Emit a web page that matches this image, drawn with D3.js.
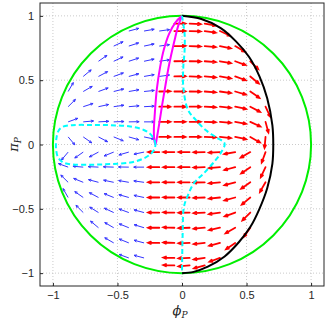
<!DOCTYPE html>
<html>
<head>
<meta charset="utf-8">
<script src="https://cdn.jsdelivr.net/npm/d3@7"></script>
<style>
  body { margin: 0; background: #fff; }
  svg text { font-family: "Liberation Sans", Arial, sans-serif; }
</style>
</head>
<body>
<div id="chart"></div>
<script>
// grid used by the quiver (phi and pi both)
const grid = [-1, -0.882, -0.765, -0.647, -0.529, -0.412, -0.294, -0.176, -0.059,
  0.059, 0.176, 0.294, 0.412, 0.529, 0.647, 0.765, 0.882, 1];

// quiver rows: [pi, index of first phi column, arrow angles in degrees]
const blueRows = [
  [0.882, 5, [15, 10, 8]],
  [0.765, 4, [25, 18, 12, 8]],
  [0.647, 3, [35, 25, 18, 12, 8]],
  [0.529, 2, [40, 28, 20, 15, 10, 8]],
  [0.412, 1, [60, 30, 20, 14, 10, 6]],
  [0.294, 1, [45, 18, 12, 8, 5, 3]],
  [0.176, 1, [20, 5, 3, 2, 1, 0]],
  [0.059, 1, [-50, -35, -28, -22, -16, -12]],
  [-0.059, 1, [230, 215, 208, 202, 196, 192]],
  [-0.176, 1, [160, 175, 177, 178, 179, 180]],
  [-0.294, 1, [135, 158, 165, 168, 170, 172]],
  [-0.412, 1, [120, 145, 152, 158, 164, 168]],
  [-0.529, 2, [135, 148, 155, 160, 165]],
  [-0.647, 3, [140, 150, 158, 163]],
  [-0.765, 4, [150, 158, 165]],
  [-0.882, 5, [160, 165]]
];

const redRows = [
  [0.94, 8, [0, -3, -10]],
  [0.882, 8, [0, -2, -8, -25]],
  [0.765, 8, [1, -2, -5, -12, -30]],
  [0.647, 8, [1, -1, -4, -10, -20, -45]],
  [0.529, 8, [1, -2, -5, -10, -20, -40]],
  [0.412, 7, [1, 0, -1, -4, -8, -16, -35]],
  [0.294, 7, [0, 0, 0, -3, -6, -12, -28, -65]],
  [0.176, 7, [0, 0, 0, -2, -5, -10, -25, -75]],
  [0.059, 7, [0, 0, 0, -2, -6, -12, -30, -95]],
  [-0.059, 7, [180, 180, 180, 181, 183, 190, 210, 250]],
  [-0.176, 7, [180, 180, 180, 182, 185, 195, 215, 245]],
  [-0.294, 7, [180, 180, 180, 181, 185, 195, 215, 240]],
  [-0.412, 7, [180, 179, 180, 182, 186, 195, 220]],
  [-0.529, 7, [180, 179, 181, 183, 188, 200, 225]],
  [-0.647, 7, [180, 178, 182, 185, 192, 210, 235]],
  [-0.765, 7, [179, 178, 182, 186, 195, 215]],
  [-0.882, 8, [178, 182, 188, 200]],
  [-0.94, 8, [178, 185, 195]]
];

// curves: [phi, pi]
const blackCurve = [[0, 1], [0.15, 0.975], [0.3, 0.905], [0.42, 0.8], [0.52, 0.68], [0.6, 0.53],
  [0.66, 0.36], [0.7, 0.15], [0.707, 0], [0.7, -0.15], [0.66, -0.34], [0.6, -0.5],
  [0.53, -0.64], [0.44, -0.76], [0.33, -0.87], [0.2, -0.95], [0.09, -0.99], [0, -1]];

const magentaCurve = [[0, 1], [-0.05, 0.95], [-0.1, 0.86], [-0.14, 0.74], [-0.17, 0.6],
  [-0.195, 0.43], [-0.21, 0.25], [-0.218, 0.1], [-0.212, 0.02], [-0.205, 0],
  [-0.195, 0.05], [-0.175, 0.17], [-0.155, 0.3], [-0.13, 0.45], [-0.1, 0.62],
  [-0.06, 0.8], [-0.03, 0.92], [0, 1]];

const cyanLoop = [[-0.205, 0], [-0.215, 0.04], [-0.25, 0.085], [-0.3, 0.115], [-0.4, 0.14],
  [-0.55, 0.15], [-0.7, 0.152], [-0.85, 0.15], [-0.93, 0.135], [-0.96, 0.1], [-0.975, 0.03],
  [-0.975, -0.04], [-0.96, -0.1], [-0.92, -0.14], [-0.85, -0.155], [-0.7, -0.157],
  [-0.55, -0.152], [-0.4, -0.14], [-0.3, -0.11], [-0.25, -0.08], [-0.215, -0.04], [-0.205, 0]];

const cyanRight = [[0, 1], [0.02, 0.86], [0.02, 0.73], [0.01, 0.6], [0.01, 0.45], [0.046, 0.27],
  [0.108, 0.19], [0.186, 0.11], [0.263, 0.057], [0.33, 0.008], [0.3, -0.067], [0.26, -0.122],
  [0.17, -0.223], [0.093, -0.3], [0.041, -0.407], [0.015, -0.485], [0.005, -0.7], [0, -1]];

const ticks = [-1, -0.5, 0, 0.5, 1];

const width = 327;
const height = 320;
const margin = { top: 3, right: 3, bottom: 34, left: 40 };

const svg = d3.select('#chart')
  .append('svg')
  .attr('width', width)
  .attr('height', height);

const x = d3.scaleLinear()
  .domain([-1.1, 1.1])
  .range([margin.left, width - margin.right]);

const y = d3.scaleLinear()
  .domain([-1.1, 1.1])
  .range([height - margin.bottom, margin.top]);

svg.append('clipPath').attr('id', 'clip')
  .append('rect')
  .attr('x', margin.left).attr('y', margin.top)
  .attr('width', width - margin.left - margin.right)
  .attr('height', height - margin.top - margin.bottom);

// dotted grid
const gridG = svg.append('g')
  .attr('stroke', '#bdbdbd')
  .attr('stroke-width', 0.8)
  .attr('stroke-dasharray', '1,2');
gridG.selectAll('.gx').data(ticks).join('line')
  .attr('x1', d => x(d)).attr('x2', d => x(d))
  .attr('y1', margin.top).attr('y2', height - margin.bottom);
gridG.selectAll('.gy').data(ticks).join('line')
  .attr('y1', d => y(d)).attr('y2', d => y(d))
  .attr('x1', margin.left).attr('x2', width - margin.right);

const plot = svg.append('g').attr('clip-path', 'url(#clip)');

function arrowPath(phi, pi, ang, len, hs) {
  const a = ang * Math.PI / 180;
  const x1 = x(phi), y1 = y(pi);
  const x2 = x(phi + len * Math.cos(a)), y2 = y(pi + len * Math.sin(a));
  const th = Math.atan2(y2 - y1, x2 - x1);
  const h = hs * Math.hypot(x2 - x1, y2 - y1);
  const w = 0.4;
  const ax = x2 - h * Math.cos(th - w), ay = y2 - h * Math.sin(th - w);
  const bx = x2 - h * Math.cos(th + w), by = y2 - h * Math.sin(th + w);
  return `M${x1},${y1}L${x2},${y2}M${ax},${ay}L${x2},${y2}L${bx},${by}`;
}

function flatten(rows) {
  const out = [];
  rows.forEach(([pi, first, angs]) => {
    angs.forEach((a, k) => out.push({ phi: grid[first + k], pi: pi, ang: a }));
  });
  return out;
}

plot.append('g')
  .attr('fill', 'none')
  .attr('stroke', '#3535ff')
  .attr('stroke-width', 1)
  .selectAll('path')
  .data(flatten(blueRows))
  .join('path')
    .attr('d', d => arrowPath(d.phi, d.pi, d.ang, 0.08, 0.28));

plot.append('g')
  .attr('fill', 'none')
  .attr('stroke', '#ff0000')
  .attr('stroke-width', 1.8)
  .attr('stroke-linecap', 'round')
  .selectAll('path')
  .data(flatten(redRows))
  .join('path')
    .attr('d', d => arrowPath(d.phi, d.pi, d.ang, 0.086, 0.26));

const line = d3.line()
  .x(d => x(d[0]))
  .y(d => y(d[1]))
  .curve(d3.curveCatmullRom);

// unit circle
plot.append('ellipse')
  .attr('cx', x(0)).attr('cy', y(0))
  .attr('rx', x(1) - x(0)).attr('ry', y(0) - y(1))
  .attr('fill', 'none')
  .attr('stroke', '#00ee00')
  .attr('stroke-width', 2);

plot.append('path')
  .attr('d', line(blackCurve))
  .attr('fill', 'none').attr('stroke', '#000').attr('stroke-width', 2);

plot.append('path')
  .attr('d', line(magentaCurve))
  .attr('fill', 'none').attr('stroke', '#ff00ff').attr('stroke-width', 2);

plot.selectAll('.cyan')
  .data([cyanLoop, cyanRight])
  .join('path')
    .attr('d', d => line(d))
    .attr('fill', 'none')
    .attr('stroke', '#00ffff')
    .attr('stroke-width', 2)
    .attr('stroke-dasharray', '5,3');

// axes box
svg.append('rect')
  .attr('x', margin.left).attr('y', margin.top)
  .attr('width', width - margin.left - margin.right)
  .attr('height', height - margin.top - margin.bottom)
  .attr('fill', 'none')
  .attr('stroke', '#262626')
  .attr('stroke-width', 1);

function fmt(d) {
  return d3.format('')(d).replace('-', '\u2212');
}

const xAxis = d3.axisBottom(x).tickValues(ticks).tickSizeInner(-3).tickSizeOuter(0).tickPadding(5).tickFormat(fmt);
const yAxis = d3.axisLeft(y).tickValues(ticks).tickSizeInner(-3).tickSizeOuter(0).tickPadding(6).tickFormat(fmt);

svg.append('g')
  .attr('transform', `translate(0,${height - margin.bottom})`)
  .call(xAxis)
  .call(g => g.select('.domain').remove())
  .call(g => g.selectAll('line').attr('stroke', '#262626'))
  .call(g => g.selectAll('text').attr('font-size', 11).attr('fill', '#262626')
    .attr('font-family', '"Liberation Sans", Arial, sans-serif'));

svg.append('g')
  .attr('transform', `translate(${margin.left},0)`)
  .call(yAxis)
  .call(g => g.select('.domain').remove())
  .call(g => g.selectAll('line').attr('stroke', '#262626'))
  .call(g => g.selectAll('text').attr('font-size', 11).attr('fill', '#262626')
    .attr('font-family', '"Liberation Sans", Arial, sans-serif'));

// axis labels
const xl = svg.append('text')
  .attr('x', x(0) - 2).attr('y', 315)
  .attr('text-anchor', 'middle')
  .style('font-family', '"DejaVu Serif", "Liberation Serif", serif')
  .attr('font-size', 13)
  .attr('font-style', 'italic')
  .attr('fill', '#262626');
xl.append('tspan').text('\u03d5');
xl.append('tspan').attr('font-size', 9).attr('dy', 3).text('P');

const yl = svg.append('text')
  .attr('transform', `translate(18,${y(0)}) rotate(-90)`)
  .attr('text-anchor', 'middle')
  .style('font-family', '"DejaVu Serif", "Liberation Serif", serif')
  .attr('font-size', 13)
  .attr('font-style', 'italic')
  .attr('fill', '#262626');
yl.append('tspan').text('\u03c0');
yl.append('tspan').attr('font-size', 9).attr('dy', 3).text('P');
</script>
</body>
</html>
